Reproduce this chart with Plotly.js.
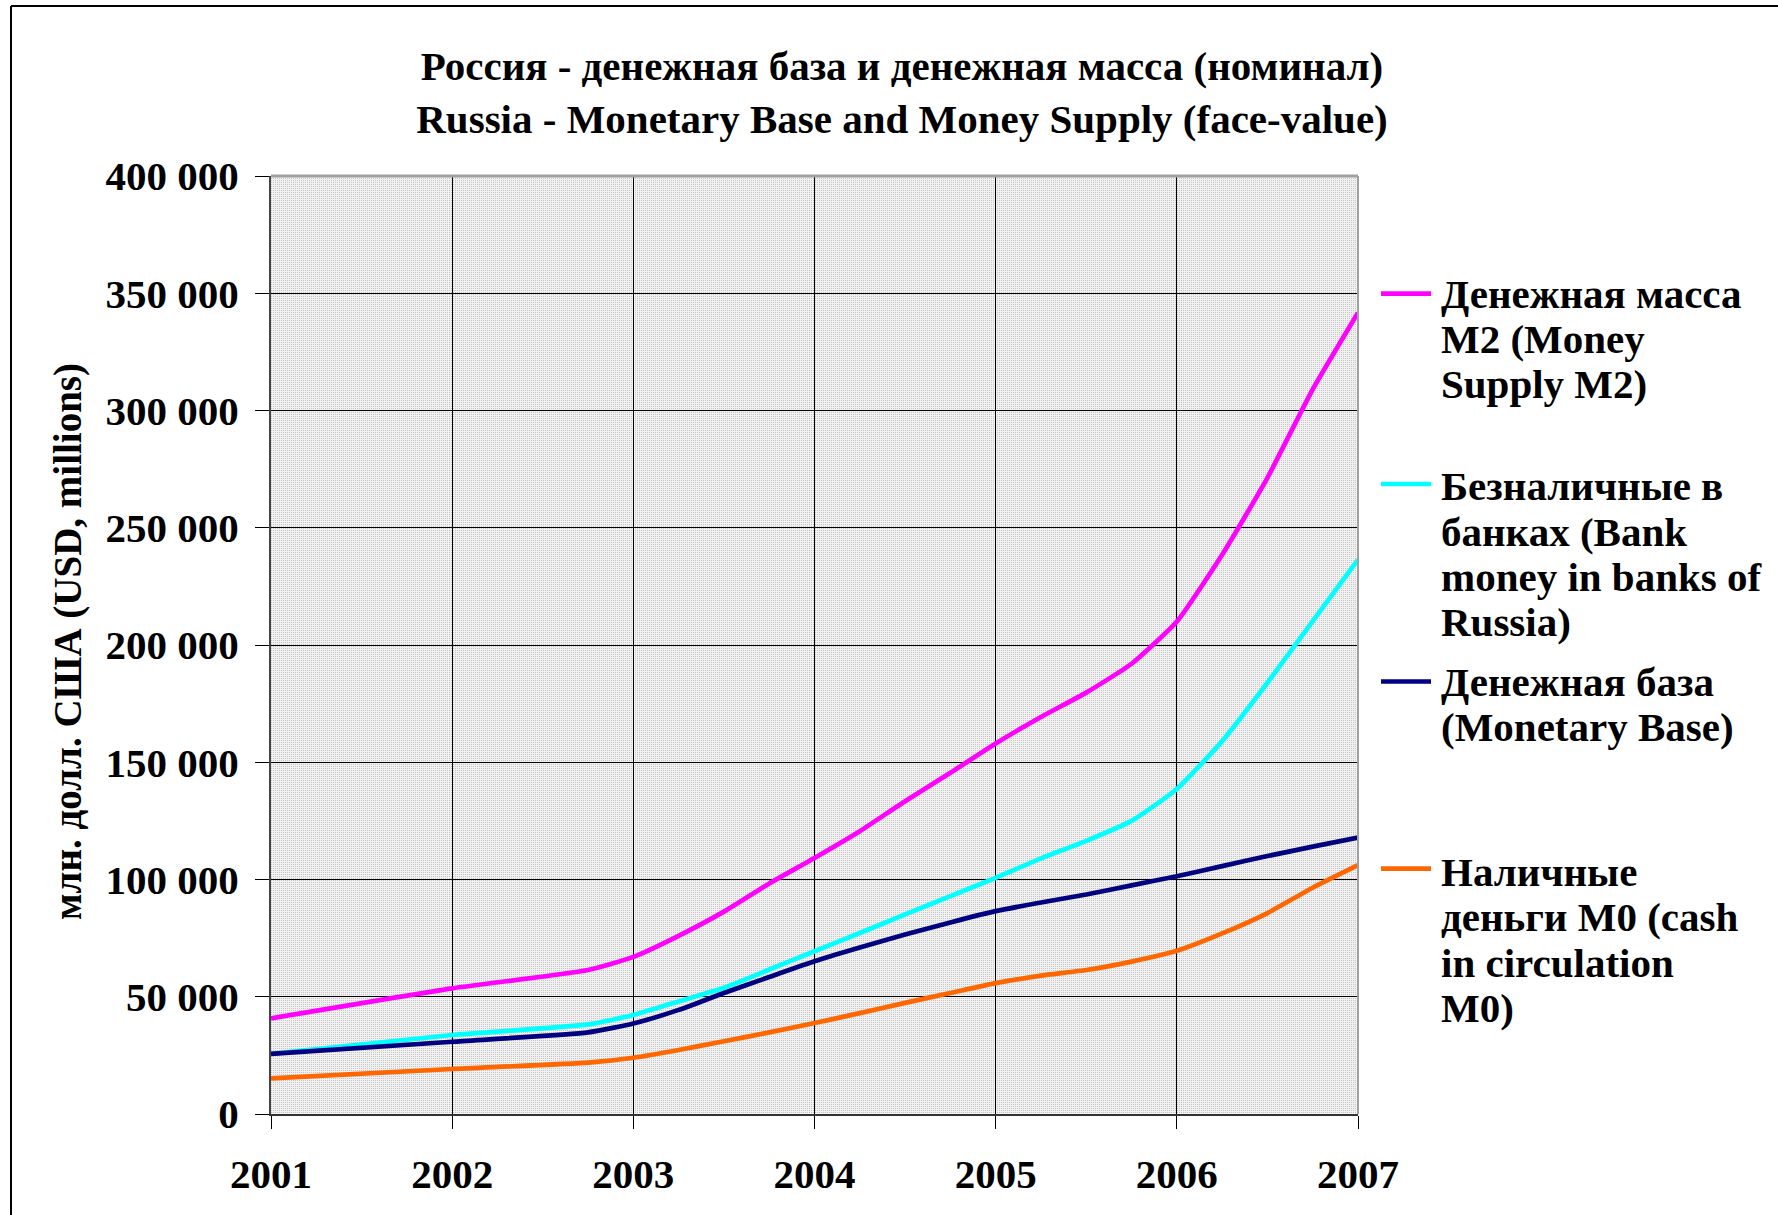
<!DOCTYPE html>
<html><head><meta charset="utf-8">
<script src="https://cdn.plot.ly/plotly-3.0.1.min.js"></script>
<style>html,body{margin:0;padding:0;background:#fff}#chart{width:1778px;height:1215px}</style>
</head><body><div id="chart"></div>
<script>
// ---- data ----
const years = [2001, 2002, 2002.75, 2003, 2003.25, 2003.5, 2003.75, 2004, 2004.25, 2004.5, 2004.75, 2005, 2005.25, 2005.5, 2005.75, 2006, 2006.25, 2006.5, 2006.75, 2007];
const m2 =           [40800, 53600, 61400, 67000, 76000, 86300, 98300, 109200, 120600, 133400, 145500, 158000, 169300, 179700, 192000, 210000, 238500, 271300, 309000, 341700];
const bankMoney =    [25600, 33700, 38200, 42200, 48000, 53800, 61600, 69400, 77200, 85100, 92900, 100700, 109000, 116500, 125000, 138600, 159000, 183900, 210200, 236400];
const monetaryBase = [25600, 30800, 34800, 38600, 44400, 51600, 58400, 65100, 71000, 76500, 81700, 86500, 90200, 93600, 97500, 101400, 105700, 110000, 114000, 117900];
const cashM0 =       [15200, 19200, 21900, 24000, 27300, 31000, 34800, 38800, 43000, 47400, 51600, 55800, 59000, 61400, 65000, 69600, 77000, 85700, 96500, 106100];
const yearTicks = [2001, 2002, 2003, 2004, 2005, 2006, 2007];
const valueTicks = [0, 50000, 100000, 150000, 200000, 250000, 300000, 350000, 400000];
const seriesNames = ['Денежная масса M2 (Money Supply M2)', 'Безналичные в банках (Bank money in banks of Russia)', 'Денежная база (Monetary Base)', 'Наличные деньги M0 (cash in circulation M0)'];
const legendLines = [
  ['Денежная масса', 'M2 (Money', 'Supply M2)'],
  ['Безналичные в', 'банках (Bank', 'money in banks of', 'Russia)'],
  ['Денежная база', '(Monetary Base)'],
  ['Наличные', 'деньги M0 (cash', 'in circulation', 'M0)']
];
const titleLines = ['Россия - денежная база и денежная масса (номинал)', 'Russia - Monetary Base and Money Supply (face-value)'];
const yTitle = 'млн. долл. США (USD, millions)';

// ---- styles / geometry ----
const colors = ['#FF00FF', '#00FFFF', '#000080', '#FF6600'];
const W = 1778, H = 1215, L = 271, R = 1358, T = 176, B = 1114;
const px = x => (x - L) / (R - L);
const py = y => (B - y) / (B - T);
const FONT = '"Liberation Serif", "Times New Roman", serif';
const legendSampleY = [293.7, 484, 681.5, 868.6];
const legendFirstLineY = [293.7, 486.4, 681.5, 872];
const legendLineStep = 45.3;

// dotted plot-area fill (Excel-style pattern)
const patternSvg = '<svg xmlns="http://www.w3.org/2000/svg" width="' + (R - L) + '" height="' + (B - T) + '">' +
  '<defs><pattern id="p" width="2" height="2" patternUnits="userSpaceOnUse">' +
  '<rect width="2" height="2" fill="#f2f2f2"/><rect width="1" height="1" fill="#c4c4c4"/></pattern></defs>' +
  '<rect width="100%" height="100%" fill="url(#p)"/></svg>';

const seriesY = [m2, bankMoney, monetaryBase, cashM0];
const traces = seriesY.map((ys, i) => ({
  type: 'scatter', mode: 'lines', x: years, y: ys, name: seriesNames[i],
  line: {color: colors[i], width: 4.7, shape: 'spline', smoothing: 0.5},
  showlegend: false, hoverinfo: 'x+y+name'
}));

const shapes = [];
const annotations = [];
legendLines.forEach((lines, i) => {
  shapes.push({type: 'line', xref: 'paper', yref: 'paper', x0: px(1381), x1: px(1431),
    y0: py(legendSampleY[i]), y1: py(legendSampleY[i]), line: {color: colors[i], width: 4.7}});
  lines.forEach((t, j) => {
    annotations.push({xref: 'paper', yref: 'paper', x: px(1439), y: py(legendFirstLineY[i] + j * legendLineStep),
      xanchor: 'left', yanchor: 'middle', showarrow: false, text: t,
      font: {family: FONT, size: 41, weight: 'bold', color: '#000'}});
  });
});
annotations.push({xref: 'paper', yref: 'paper', x: px(68), y: py(642), xanchor: 'center', yanchor: 'middle',
  textangle: -90, showarrow: false, text: yTitle, font: {family: FONT, size: 39, weight: 'bold', color: '#000'}});
shapes.push({type: 'line', xref: 'paper', yref: 'paper', x0: 0, x1: 1, y0: 1, y1: 1, line: {color: '#a0a0a0', width: 3}});
shapes.push({type: 'line', xref: 'paper', yref: 'paper', x0: 1, x1: 1, y0: 0, y1: 1, line: {color: '#a0a0a0', width: 2}});
shapes.push({type: 'line', xref: 'paper', yref: 'paper', x0: px(11), x1: px(11), y0: py(6), y1: py(1300), line: {color: '#000', width: 2}});
shapes.push({type: 'line', xref: 'paper', yref: 'paper', x0: px(11), x1: px(1800), y0: py(6), y1: py(6), line: {color: '#000', width: 2}});

const layout = {
  width: W, height: H,
  margin: {l: L, r: W - R, t: T, b: H - B, pad: 0},
  paper_bgcolor: '#ffffff', plot_bgcolor: '#e6e6e6',
  separators: '. ',
  font: {family: FONT, size: 41, color: '#000', weight: 'bold'},
  title: {text: titleLines.join('<br>'), x: 902 / W, xanchor: 'center', xref: 'container',
    y: 1 - 80 / H, yanchor: 'middle', yref: 'container',
    font: {family: FONT, size: 41, weight: 'bold', color: '#000'}},
  images: [{source: 'data:image/svg+xml;charset=utf-8,' + encodeURIComponent(patternSvg),
    xref: 'paper', yref: 'paper', x: 0, y: 1, sizex: 1, sizey: 1, sizing: 'stretch',
    xanchor: 'left', yanchor: 'top', layer: 'below'}],
  xaxis: {range: [2001, 2007], tickvals: yearTicks, ticktext: yearTicks.map(String),
    showgrid: true, gridcolor: '#000', gridwidth: 1, zeroline: false,
    showline: true, linecolor: '#333', linewidth: 2,
    ticks: 'outside', ticklen: 13, tickwidth: 1, tickcolor: '#000', ticklabelstandoff: 10,
    tickfont: {family: FONT, size: 41, weight: 'bold', color: '#000'}, automargin: false, fixedrange: true},
  yaxis: {range: [0, 400000], tickvals: valueTicks, tickformat: ',d',
    showgrid: true, gridcolor: '#000', gridwidth: 1, zeroline: false,
    showline: true, linecolor: '#444', linewidth: 2,
    ticks: 'outside', ticklen: 14, tickwidth: 1, tickcolor: '#000', ticklabelstandoff: 8,
    tickfont: {family: FONT, size: 41, weight: 'bold', color: '#000'}, automargin: false, fixedrange: true},
  shapes: shapes, annotations: annotations, showlegend: false
};
Plotly.newPlot('chart', traces, layout, {displayModeBar: false, staticPlot: true});
</script></body></html>
